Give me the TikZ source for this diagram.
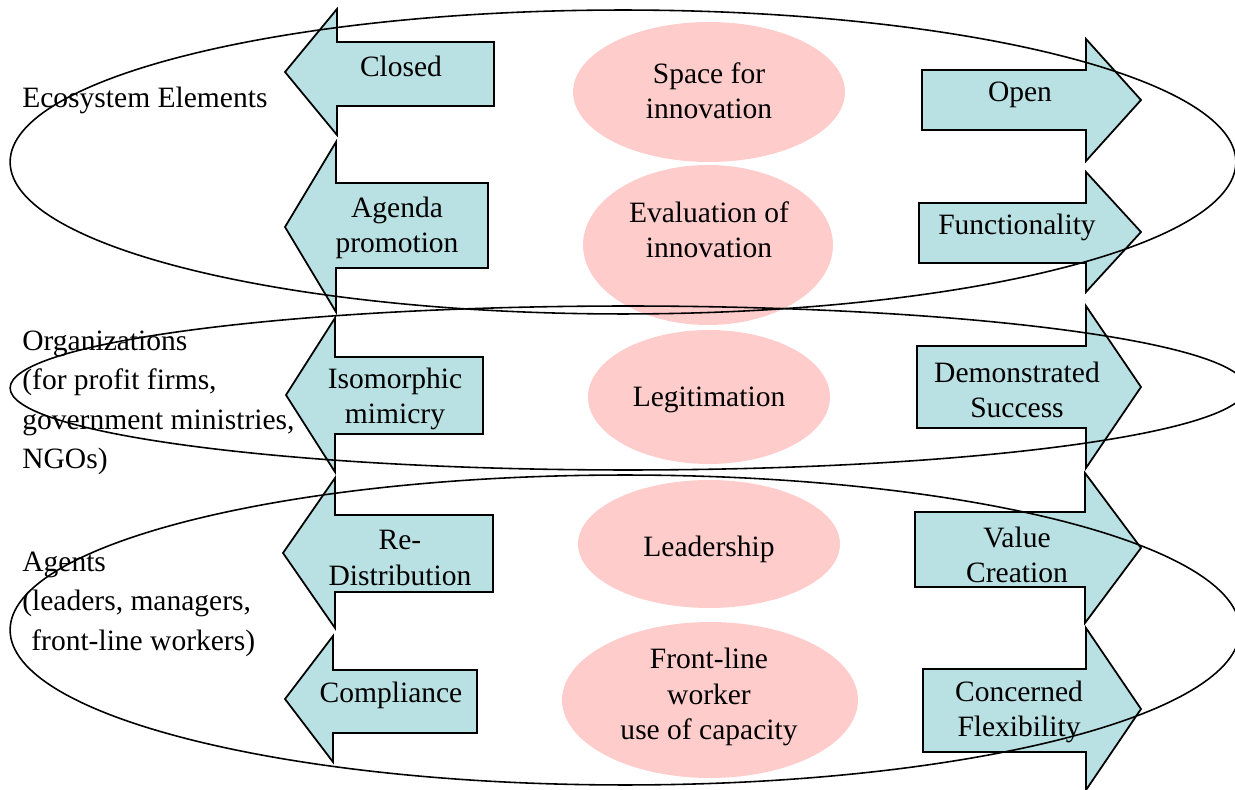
\documentclass[tikz,border=0pt]{standalone}
\usepackage{fontspec}
\setmainfont{Liberation Serif}
\usepackage{tikz}
\usetikzlibrary{calc, positioning}

\definecolor{arrowfill}{HTML}{B9E0E3}
\definecolor{innovfill}{HTML}{FFCCCC}

\tikzset{
  lbl/.style={align=center, inner sep=0pt, font=\fontsize{16.8}{20}\selectfont},
  sidelbl/.style={align=left, anchor=west, inner sep=0pt, font=\fontsize{16.8}{22.5}\selectfont},
  arrowbox/.style={draw=black, fill=arrowfill, line width=1pt, line join=miter},
  innov/.style={fill=innovfill},
  ring/.style={draw=black, line width=0.9pt}
}

% tip x, tip y, head x, head half height, shaft x, shaft top, shaft bottom
\newcommand{\westarrow}[7]{%
  \draw[arrowbox] (#1,#2) -- (#3,{#2-#4}) -- (#3,#6) -- (#5,#6) -- (#5,#7)
    -- (#3,#7) -- (#3,{#2+#4}) -- cycle;}
\newcommand{\eastarrow}[7]{%
  \draw[arrowbox] (#1,#2) -- (#3,{#2-#4}) -- (#3,#6) -- (#5,#6) -- (#5,#7)
    -- (#3,#7) -- (#3,{#2+#4}) -- cycle;}

\begin{document}
\begin{tikzpicture}[x=0.02cm, y=-0.02cm]
    \useasboundingbox (0,0) rectangle (1235,790);

    % innovation ellipses
    \fill[innov] (709,92) ellipse [x radius=2.72cm, y radius=1.4cm];
    \fill[innov] (708,245) ellipse [x radius=2.5cm, y radius=1.6cm];
    \fill[innov] (709,397) ellipse [x radius=2.42cm, y radius=1.34cm];
    \fill[innov] (709,544) ellipse [x radius=2.62cm, y radius=1.28cm];
    \fill[innov] (710,700) ellipse [x radius=2.96cm, y radius=1.56cm];
    \node[lbl] (space) at (709,91) {Space for\\innovation};
    \node[lbl] (eval) at (709,230) {Evaluation of\\innovation};
    \node[lbl] (legit) at (709,400) {Legitimation};
    \node[lbl] (lead) at (709,549) {Leadership};
    \node[lbl] (front) at (709,697) {Front-line\\worker\\use of capacity};

    % left arrows
    \westarrow{285}{72}{337}{63}{494}{42}{106}
    \westarrow{285}{227}{336}{85}{488}{183}{268}
    \westarrow{286}{395}{335}{77}{483}{357}{434}
    \westarrow{283}{553}{335}{75}{493}{515}{592}
    \westarrow{285}{699}{333}{63}{477}{670}{733}
    \node[lbl] (closed) at (401,66) {Closed};
    \node[lbl] (agenda) at (397,228) {Agenda\\promotion};
    \node[lbl] (iso) at (395,399) {Isomorphic\\mimicry};
    \node[lbl] (redist) at (400,558) {Re-\\Distribution};
    \node[lbl] (compl) at (391,695) {Compliance};

    % right arrows
    \eastarrow{1141}{100}{1086}{61}{922}{70}{130}
    \eastarrow{1141}{232}{1086}{60}{919}{203}{263}
    \eastarrow{1141}{387}{1086}{81}{917}{346}{428}
    \eastarrow{1141}{548}{1085}{75}{915}{512}{587}
    \eastarrow{1141}{709}{1086}{81}{923}{669}{752}
    \node[lbl] (open) at (1020,95) {Open};
    \node[lbl] (funct) at (1017,227) {Functionality};
    \node[lbl] (demo) at (1017,390) {Demonstrated\\Success};
    \node[lbl] (value) at (1017,555) {Value\\Creation};
    \node[lbl] (flex) at (1019,712) {Concerned\\Flexibility};

    % levels
    \node[sidelbl] (eco) at (22,100) {Ecosystem Elements};
    \node[sidelbl] (org) at (22,403) {Organizations\\(for profit firms,\\government ministries,\\NGOs)};
    \node[sidelbl] (agents) at (22,604) {Agents\\(leaders, managers,\\\hspace*{0.18cm}front-line workers)};

    \draw[ring] (623,162) ellipse [x radius=12.26cm, y radius=3.04cm];
    \draw[ring] (628,388) ellipse [x radius=12.36cm, y radius=1.64cm];
    \draw[ring] (625,630) ellipse [x radius=12.3cm, y radius=3.1cm];
\end{tikzpicture}
\end{document}
